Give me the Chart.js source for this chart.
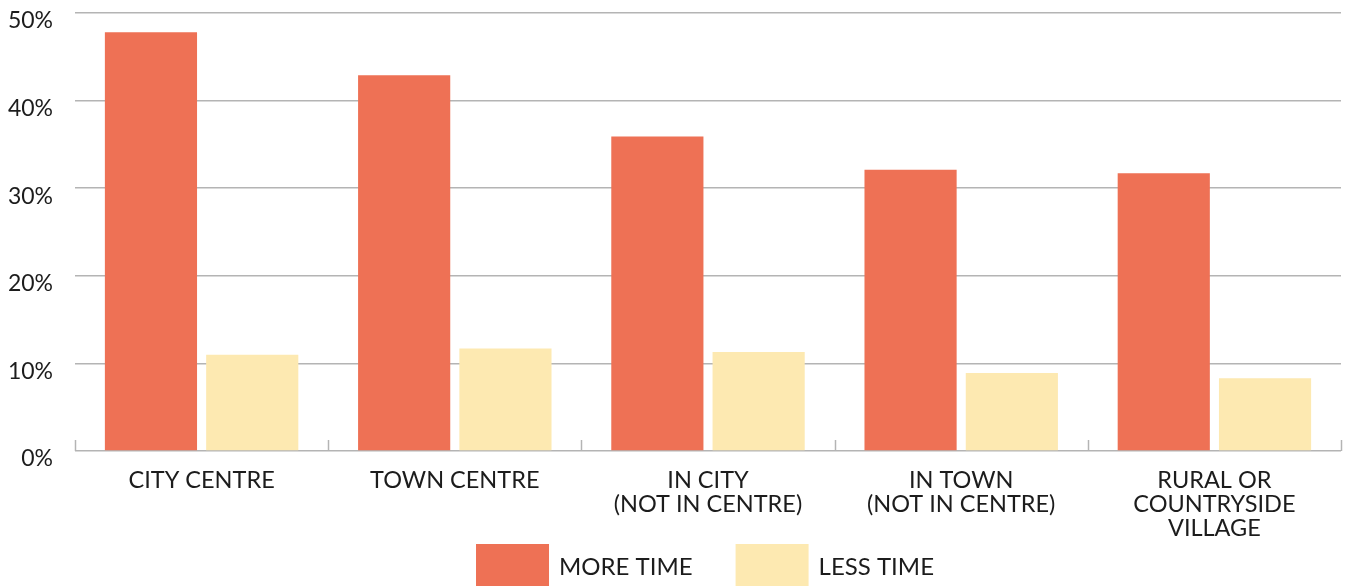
<!DOCTYPE html>
<html>
<head>
<meta charset="utf-8">
<script src="https://cdn.jsdelivr.net/npm/chart.js@4.4.1/dist/chart.umd.min.js"></script>
<style>
  html, body { margin: 0; padding: 0; background: #ffffff; overflow: hidden; }
  #wrap { width: 1346px; height: 586px; position: relative; }
</style>
</head>
<body>
<div id="wrap"><canvas id="c" width="1346" height="586"></canvas></div>
<script>
const categories = [
  ["CITY CENTRE"],
  ["TOWN CENTRE"],
  ["IN CITY", "(NOT IN CENTRE)"],
  ["IN TOWN", "(NOT IN CENTRE)"],
  ["RURAL OR", "COUNTRYSIDE", "VILLAGE"]
];
const seriesNames = ["MORE TIME", "LESS TIME"];
const moreTime = [47.8, 42.9, 35.9, 32.1, 31.7];
const lessTime = [11.0, 11.7, 11.3, 8.9, 8.3];
const yTicks = [0, 10, 20, 30, 40, 50];

const COLORS = ["#EE7155", "#FDE9B1"];
const FONT = "Lato, 'Open Sans', sans-serif";
const TEXT = "#1c1c1c";
const GRID = "#b4b4b4";

const boundaryTicks = {
  id: "boundaryTicks",
  afterDatasetsDraw(chart) {
    const x = chart.scales.x, area = chart.chartArea, ctx = chart.ctx;
    const n = chart.data.labels.length;
    const w = (x.right - x.left) / n;
    ctx.save();
    ctx.strokeStyle = GRID;
    ctx.lineWidth = 1.5;
    for (let i = 0; i <= n; i++) {
      const px = Math.round(x.getPixelForValue(i) - w / 2) + 0.5;
      ctx.beginPath();
      ctx.moveTo(px, area.bottom - 11);
      ctx.lineTo(px, area.bottom);
      ctx.stroke();
    }
    ctx.restore();
  }
};

const customLegend = {
  id: "customLegend",
  afterDraw(chart) {
    const ctx = chart.ctx, area = chart.chartArea;
    const ds = chart.data.datasets;
    const boxW = 73, boxH = 44, gap = 10, spacing = 43, top = 544;
    ctx.save();
    ctx.font = "24px " + FONT;
    const widths = ds.map(d => ctx.measureText(d.label).width);
    let total = 0;
    widths.forEach((w, i) => { total += boxW + gap + w + (i < ds.length - 1 ? spacing : 0); });
    let x = (area.left + area.right) / 2 - 3 - total / 2;
    ds.forEach((d, i) => {
      ctx.fillStyle = d.backgroundColor;
      ctx.fillRect(x, top, boxW, boxH);
      ctx.fillStyle = TEXT;
      ctx.textBaseline = "middle";
      ctx.textAlign = "left";
      ctx.fillText(d.label, x + boxW + gap, top + 23);
      x += boxW + gap + widths[i] + spacing;
    });
    ctx.restore();
  }
};

new Chart(document.getElementById("c"), {
  type: "bar",
  data: {
    labels: categories,
    datasets: [
      { label: seriesNames[0], data: moreTime, backgroundColor: COLORS[0] },
      { label: seriesNames[1], data: lessTime, backgroundColor: COLORS[1] }
    ]
  },
  options: {
    responsive: false,
    animation: false,
    devicePixelRatio: 1,
    categoryPercentage: 0.8,
    barPercentage: 0.91,
    layout: { padding: { top: 13, right: 5, bottom: 45, left: 0 } },
    plugins: {
      legend: { display: false },
      tooltip: { enabled: false }
    },
    scales: {
      x: {
        grid: { display: false, drawTicks: false },
        border: { display: false },
        ticks: {
          color: TEXT,
          font: { family: FONT, size: 23.5, lineHeight: 1.03 },
          padding: 17,
          maxRotation: 0,
          autoSkip: false
        },
        afterFit(s) { s.height = 90; s.paddingLeft = 0; s.paddingRight = 0; s.paddingTop = 0; s.paddingBottom = 0; }
      },
      y: {
        min: 0,
        max: 50,
        afterBuildTicks(s) { s.ticks = yTicks.map(v => ({ value: v })); },
        grid: { color: GRID, lineWidth: 1.5, drawTicks: false },
        border: { display: false },
        ticks: {
          color: TEXT,
          font: { family: FONT, size: 23 },
          padding: 22,
          labelOffset: 8,
          callback: v => v + "%"
        },
        afterFit(s) { s.width = 75; s.paddingTop = 0; s.paddingBottom = 0; s.paddingLeft = 0; s.paddingRight = 0; }
      }
    }
  },
  plugins: [boundaryTicks, customLegend]
});
</script>
</body>
</html>
